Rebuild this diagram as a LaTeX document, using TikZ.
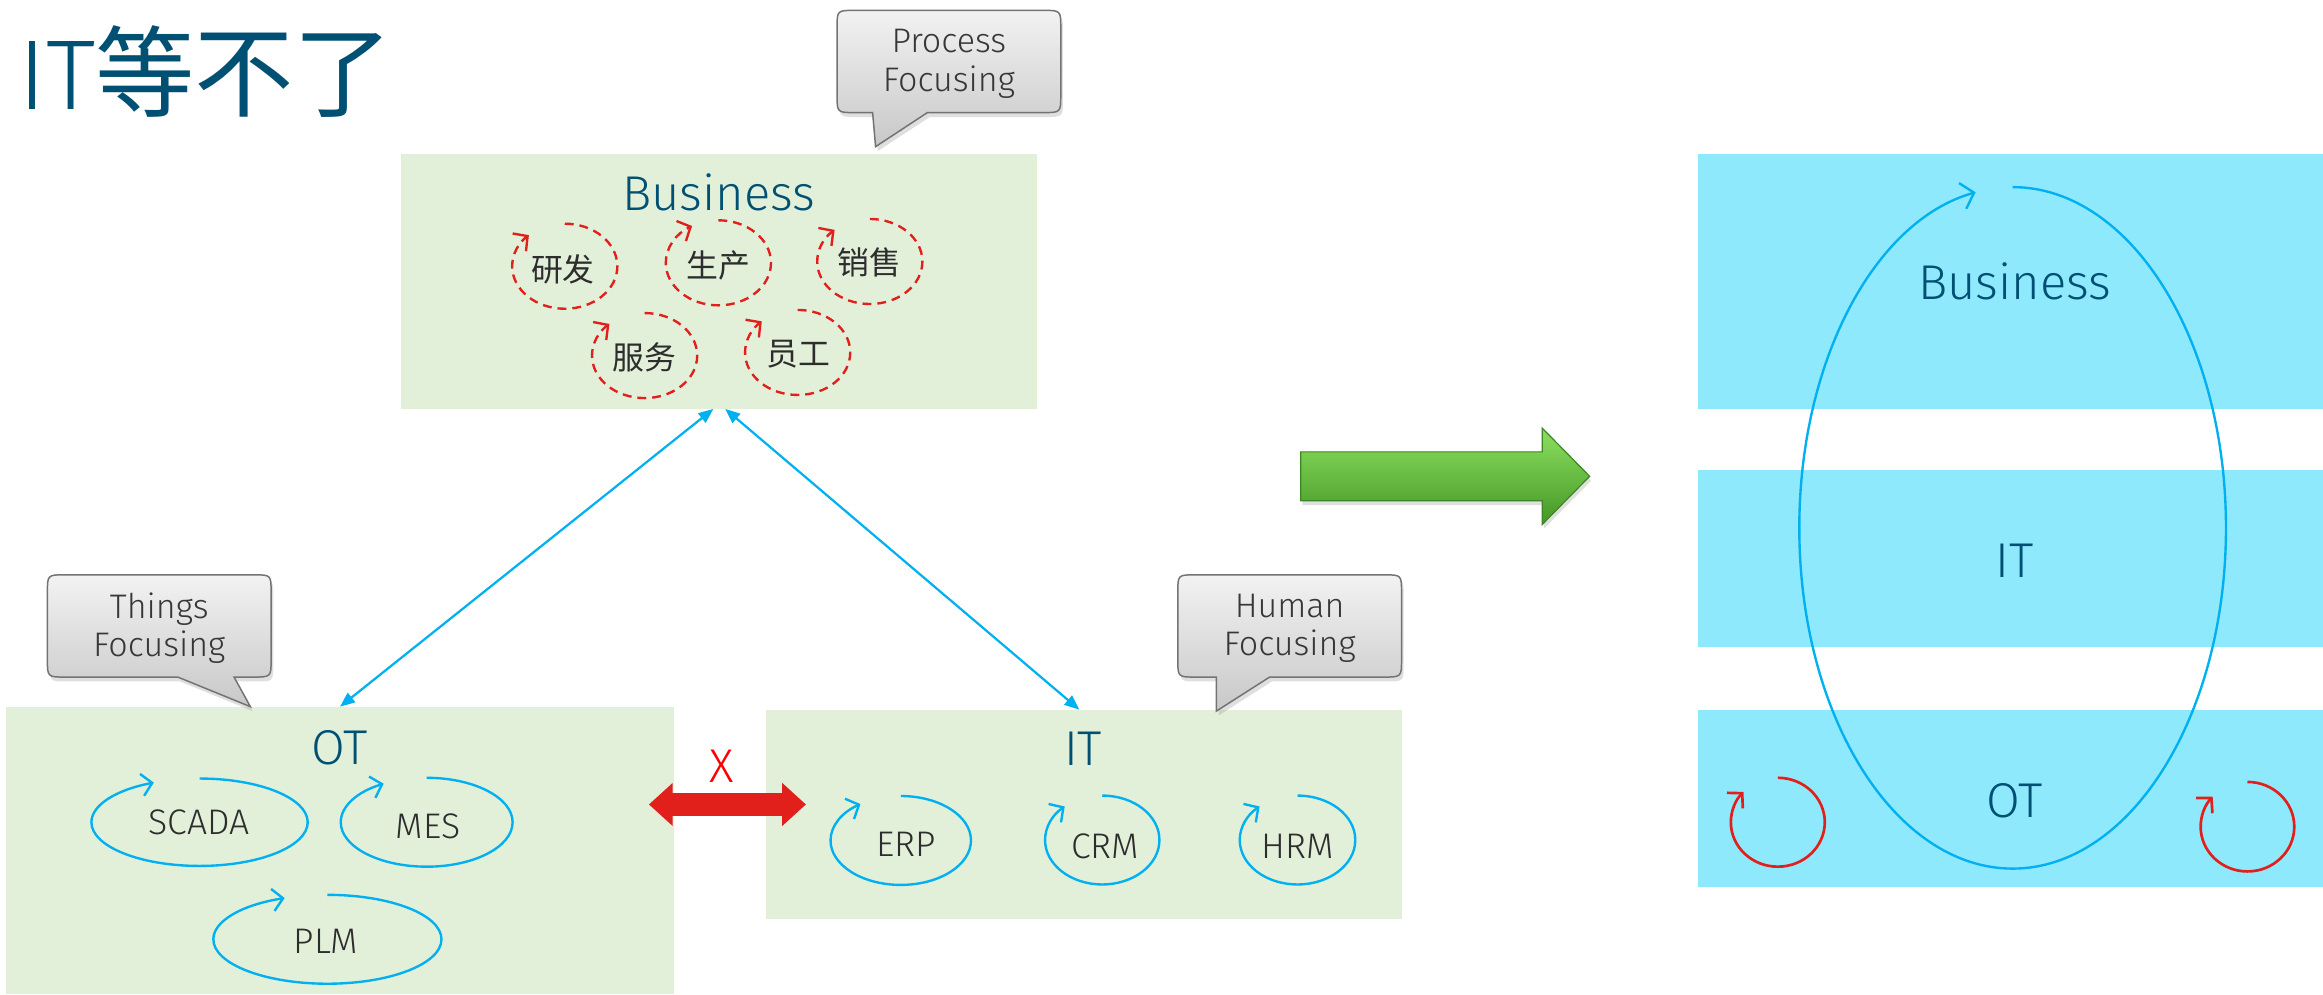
\documentclass[tikz,border=0pt]{standalone}
\usepackage{fontspec}
\setmainfont{Fira Sans Light}
\newfontfamily\cjk{Noto Sans CJK SC}
\usetikzlibrary{arrows.meta,shadows,calc}
\definecolor{boxgreen}{RGB}{226,240,217}
\definecolor{bandcyan}{RGB}{143,233,253}
\definecolor{titleblue}{RGB}{0,80,115}
\definecolor{loopblue}{RGB}{0,176,240}
\definecolor{redc}{RGB}{226,32,27}
\definecolor{txtgray}{RGB}{45,45,45}
\definecolor{calltext}{RGB}{55,55,55}
\definecolor{callborder}{RGB}{115,115,115}
\definecolor{callTop}{RGB}{242,242,242}
\definecolor{callBot}{RGB}{200,200,200}
\definecolor{garrTop}{RGB}{140,224,95}
\definecolor{garrMid}{RGB}{98,196,62}
\definecolor{garrBot}{RGB}{68,150,38}
\definecolor{garrEdge}{RGB}{60,135,35}
\newcommand\loopcirc[6]{\draw[#1] (#2,#3-#5) arc[start angle=-90,end angle=#6,x radius=#4,y radius=#5];}
\newcommand\callshape[8]{\path[callstyle] (#5,#4) -- (#1+12,#4) .. controls (#1,#4) .. (#1,#4-12) -- (#1,#2+12) .. controls (#1,#2) .. (#1+12,#2) -- (#3-12,#2) .. controls (#3,#2) .. (#3,#2+12) -- (#3,#4-12) .. controls (#3,#4) .. (#3-12,#4) -- (#6,#4) -- (#7,#8) -- cycle;}
\begin{document}
\begin{tikzpicture}[x=1pt,y=-1pt,
  areabox/.style={fill=boxgreen,draw=none,inner sep=0pt,outer sep=0pt,anchor=north west},
  bandbox/.style={fill=bandcyan,draw=none,inner sep=0pt,outer sep=0pt,anchor=north west},
  biglbl/.style={text=titleblue,inner sep=0pt,anchor=base,font=\fontsize{33}{33}\selectfont},
  cjklbl/.style={text=txtgray,inner sep=0pt,font=\cjk\fontsize{21.5}{21.5}\selectfont},
  looplbl/.style={text=txtgray,inner sep=0pt,anchor=base,font=\fontsize{24}{24}\selectfont},
  calltxt/.style={text=calltext,align=center,inner sep=0pt,font=\fontsize{23}{26}\selectfont},
  callstyle/.style={draw=callborder,line width=1pt,top color=callTop,bottom color=callBot,drop shadow={shadow xshift=1.5pt,shadow yshift=-3pt,opacity=0.25}},
  conn/.style={draw=loopblue,line width=1.5pt,arrows={Triangle[length=10pt,width=8pt]-Triangle[length=10pt,width=8pt]}},
  bloop/.style={draw=loopblue,line width=1.6pt,arrows={-Straight Barb[length=7pt,width=15pt]}},
  rdloop/.style={draw=redc,line width=1.6pt,dash pattern=on 6pt off 4pt,arrows={-Straight Barb[length=7pt,width=15pt]}},
  rloop/.style={draw=redc,line width=1.8pt,arrows={-Straight Barb[length=7pt,width=15pt]}},
]
\useasboundingbox (0,0) rectangle (1568,671);
\fill[white] (0,0) rectangle (1568,671);

% title
\node[anchor=base west,inner sep=0pt,text=titleblue,font=\fontsize{67}{67}\selectfont] (title) at (12,74) {IT{\cjk 等不了}};

% left boxes
\node[areabox,minimum width=429pt,minimum height=172pt] (biz) at (271,104) {};
\node[areabox,minimum width=451pt,minimum height=194pt] (ot) at (4,477) {};
\node[areabox,minimum width=429pt,minimum height=141pt] (itb) at (517,479) {};

\node[biglbl] (bizlbl) at (485,142) {Business};
\node[biglbl] (otlbl) at (229,516) {OT};
\node[biglbl] (itlbl) at (731,517) {IT};

% business dashed loops
\node[cjklbl] (yf) at (380,182) {研发};
\node[cjklbl] (sc) at (485,179) {生产};
\node[cjklbl] (xs) at (587,177) {销售};
\node[cjklbl] (fw) at (435,241) {服务};
\node[cjklbl] (yg) at (539,239) {员工};
\loopcirc{rdloop}{381.2}{179.7}{35.5}{28.7}{227}
\loopcirc{rdloop}{484.9}{177.4}{35.5}{28.7}{240}
\loopcirc{rdloop}{587.1}{176.5}{35.5}{28.7}{228}
\loopcirc{rdloop}{435.1}{240}{35.5}{28.7}{228}
\loopcirc{rdloop}{538.4}{237.9}{35.5}{28.7}{227}

% OT loops
\node[looplbl] (scada) at (134.5,563.6) {SCADA};
\node[looplbl] (mes) at (289,565.8) {MES};
\node[looplbl] (plm) at (220,643.5) {PLM};
\loopcirc{bloop}{134.7}{555}{73}{29.5}{245}
\loopcirc{bloop}{288}{555}{58}{30}{240}
\loopcirc{bloop}{221}{634}{77}{30}{248}

% IT loops
\node[looplbl] (erp) at (611.7,577.8) {ERP};
\node[looplbl] (crm) at (746,579.4) {CRM};
\node[looplbl] (hrm) at (876,579.4) {HRM};
\loopcirc{bloop}{608}{567.3}{47.4}{30}{235}
\loopcirc{bloop}{744}{567}{38.6}{30}{229}
\loopcirc{bloop}{875.8}{567}{39}{30}{229}

% connectors
\draw[conn] ([xshift=-4pt]biz.south) -- (ot.north);
\draw[conn] ([xshift=4pt]biz.south) -- ([xshift=-3pt]itb.north);

% red blocked link
\coordinate (xla) at (438,543);
\coordinate (xra) at (544,543);
\draw[redc,line width=16pt,arrows={Triangle[length=16pt,width=28pt]-Triangle[length=16pt,width=28pt]}] (xla) -- (xra);
\node[anchor=base,inner sep=0pt,text=red,font=\fontsize{32}{32}\selectfont] (xmark) at (487,528.5) {X};

% callouts
\callshape{565}{7}{716}{76}{589}{626}{591}{99}
\node[calltxt] (pf) at (640.5,43) {Process\\Focusing};
\callshape{32}{388}{183}{457}{120}{158}{169}{477}
\node[calltxt] (tf) at (107.5,424) {Things\\Focusing};
\callshape{795}{388}{946}{457}{821}{857}{821}{480}
\node[calltxt] (hf) at (870.5,424) {Human\\Focusing};

% green arrow
\path[top color=garrTop,middle color=garrMid,bottom color=garrBot,draw=garrEdge,line width=0.8pt,drop shadow={shadow xshift=1pt,shadow yshift=-3pt,opacity=0.25}]
  (878,305) -- (1041,305) -- (1041,289) -- (1073,321.5) -- (1041,354) -- (1041,338) -- (878,338) -- cycle;

% right panel
\node[bandbox,minimum width=422pt,minimum height=172pt] (band1) at (1146,104) {};
\node[bandbox,minimum width=422pt,minimum height=120pt] (band2) at (1146,317) {};
\node[bandbox,minimum width=422pt,minimum height=120pt] (band3) at (1146,479) {};
\node[biglbl] (rbiz) at (1360,202) {Business};
\node[biglbl] (rit) at (1360,390) {IT};
\node[biglbl] (rot) at (1360,552) {OT};
\loopcirc{bloop,arrows={-Straight Barb[length=8pt,width=18pt]}}{1358.5}{356.3}{144}{230}{260}
\loopcirc{rloop}{1200}{555}{31.7}{30}{223}
\loopcirc{rloop}{1517}{558}{31.6}{30.2}{222}
\end{tikzpicture}
\end{document}
